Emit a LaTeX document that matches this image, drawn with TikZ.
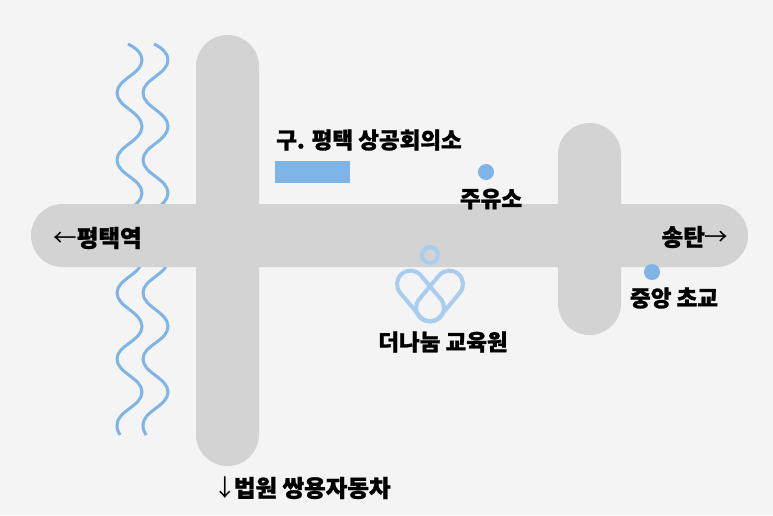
\documentclass[tikz,border=0pt]{standalone}
\usepackage{fontspec}
\usetikzlibrary{shapes.misc}
\newfontfamily\krb[FakeBold=1.2]{Noto Sans CJK KR Black}
\newfontfamily\krr{Noto Sans CJK KR}
\definecolor{bgc}{HTML}{F4F4F4}
\definecolor{roadc}{HTML}{D3D3D3}
\definecolor{bluec}{HTML}{7FB5E6}
\definecolor{logoc}{HTML}{A8CDEE}
\tikzset{
  road/.style={fill=roadc,draw=none,rounded corners=31.5pt},
  wave/.style={draw=bluec,line width=3pt,line cap=butt},
  dotmark/.style={circle,fill=bluec,draw=none,minimum size=16pt,inner sep=0pt},
  capsule/.style={rounded rectangle,draw=logoc,line width=4pt,minimum width=58pt,minimum height=27pt,inner sep=0pt},
  lab/.style={text=black,font=\krb\fontsize{22.5pt}{24pt}\selectfont,inner sep=0pt},
  labbig/.style={lab,font=\krb\fontsize{23.5pt}{25pt}\selectfont},
}
\newcommand{\arw}[1]{{\krr #1}}
\begin{document}
\begin{tikzpicture}[x=1pt,y=-1pt]
\fill[bgc] (0,0) rectangle (773,515);
\useasboundingbox (0,0) rectangle (773,515);
\foreach \dx in {0,26}{
  \draw[wave,xshift=\dx pt] (128,44) .. controls (136,48) and (142,53) .. (142,60)
    .. controls (142,74) and (117,79) .. (117,93)
    .. controls (117,107) and (142,112) .. (142,126.5)
    .. controls (142,141) and (117,146) .. (117,160)
    .. controls (117,174) and (142,179) .. (142,193)
    .. controls (142,207) and (117,212) .. (117,226)
    .. controls (117,240) and (142,245) .. (142,260)
    .. controls (142,274) and (117,279) .. (117,293)
    .. controls (117,307) and (142,312) .. (142,326.5)
    .. controls (142,341) and (117,345) .. (117,359)
    .. controls (117,373) and (142,378) .. (142,392)
    .. controls (142,406) and (117,411) .. (117,425)
    .. controls (117,429) and (118,432) .. (120,435);
}
\path[road] (196,35) rectangle (259,466);
\path[road] (558,123) rectangle (621,335);
\path[road] (31,204) rectangle (748,267);
\fill[bluec] (275,161) rectangle (350,183);
\node[dotmark] (d1) at (486,172) {};
\node[dotmark] (d2) at (652,272) {};
\node[circle,draw=logoc,line width=4pt,minimum size=16pt,inner sep=0pt] (ring) at (430,255) {};
\node[capsule,rotate=-50] (capa) at (420.5,296) {};
\node[capsule,rotate=50] (capb) at (439.5,296) {};
\node[lab] (t1) at (369,140) {구. 평택 상공회의소};
\node[lab] (t2) at (491,199) {주유소};
\node[lab] (t3) at (443,342) {더나눔 교육원};
\node[lab] (t4) at (674,298) {중앙 초교};
\node[labbig] (t5) at (695,237) {송탄\arw{→}};
\node[labbig] (t6) at (97.5,238) {\arw{←}평택역};
\node[labbig] (t7) at (302,488) {\arw{↓}\hspace{-3pt}법원 쌍용자동차};
\end{tikzpicture}
\end{document}
